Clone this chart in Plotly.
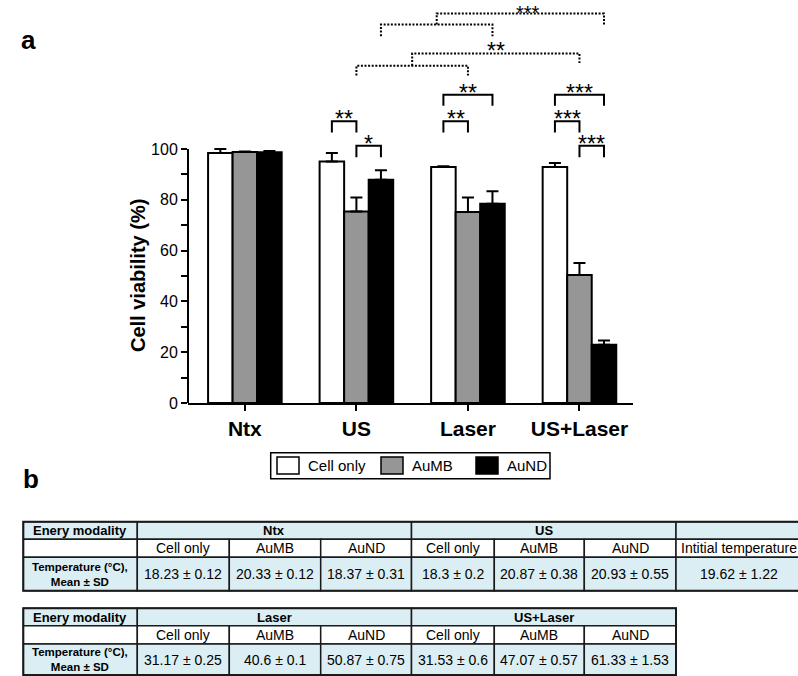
import plotly.graph_objects as go

# ---------------- data ----------------
modalities = ["Ntx", "US", "Laser", "US+Laser"]
groups = ["Cell only", "AuMB", "AuND"]
group_colors = ["#ffffff", "#969696", "#000000"]

via_cell = [98.4, 95.1, 92.9, 92.9]
via_aumb = [98.8, 75.4, 75.2, 50.4]
via_aund = [98.7, 87.9, 78.4, 22.9]
err_cell = [1.6, 3.3, 0.3, 1.6]
err_aumb = [0.2, 5.5, 5.7, 4.7]
err_aund = [0.5, 3.7, 5.0, 1.7]

y_ticks = [0, 20, 40, 60, 80, 100]
y_minor = [10, 30, 50, 70, 90]

# temperature table (mean, sd)
temp_mean = {"Ntx": [18.23, 20.33, 18.37], "US": [18.3, 20.87, 20.93],
             "Laser": [31.17, 40.6, 50.87], "US+Laser": [31.53, 47.07, 61.33]}
temp_sd = {"Ntx": [0.12, 0.12, 0.31], "US": [0.2, 0.38, 0.55],
           "Laser": [0.25, 0.1, 0.75], "US+Laser": [0.6, 0.57, 1.53]}
init_temp_mean = 19.62
init_temp_sd = 1.22

# significance: (x0, x1, top, drop, label)  solid brackets
sig_solid = [
    (0.78, 1.00, 110.9, 106.5, "**"),
    (1.00, 1.22, 101.3, 96.8, "*"),
    (1.78, 2.00, 110.9, 106.5, "**"),
    (1.78, 2.22, 121.4, 117.0, "**"),
    (2.78, 3.00, 110.9, 106.5, "***"),
    (3.00, 3.22, 101.3, 96.8, "***"),
    (2.78, 3.22, 121.4, 117.0, "***"),
]
# dotted nested brackets: (a0, a1, a_top, a_drop, b1, b_top, b_drop, label, label_dx)
sig_dotted = [
    (1.00, 2.00, 132.8, 128.9, 3.00, 137.6, 133.9, "**", 0.0),
    (1.22, 2.22, 149.0, 144.4, 3.22, 153.3, 149.0, "***", 0.07),
]

# ---------------- layout constants ----------------
W, H = 798, 676
FONT = "Liberation Sans, Arial, sans-serif"
X0PX, X1PX = 188, 633
Y0PX, Y100PX, YTOPPX = 403, 149, 3
ppu = (Y0PX - Y100PX) / 100.0
YMAX = (Y0PX - YTOPPX) / ppu


def px(x):
    return x / W


def py(y):
    return 1 - y / H


fig = go.Figure()
vals = [via_cell, via_aumb, via_aund]
errs = [err_cell, err_aumb, err_aund]
xs = list(range(len(modalities)))
for g, c, v, e in zip(groups, group_colors, vals, errs):
    fig.add_trace(go.Bar(
        x=xs, y=v, name=g, showlegend=False,
        marker=dict(color=c, line=dict(color="black", width=2)),
        error_y=dict(type="data", symmetric=False, array=e,
                     arrayminus=[0] * len(e), color="black",
                     thickness=2, width=6),
    ))

shapes = []
annotations = []

# y axis line 0..100
shapes.append(dict(type="line", xref="paper", yref="y",
                   x0=px(X0PX), x1=px(X0PX), y0=0, y1=100,
                   line=dict(color="black", width=2)))

STAR_SHIFT = -6
STAR_FONT = dict(family=FONT, size=23, color="black")
for x0, x1, top, drop, lab in sig_solid:
    shapes.append(dict(type="path", xref="x", yref="y",
                       path=f"M{x0},{drop} L{x0},{top} L{x1},{top} L{x1},{drop}",
                       line=dict(color="black", width=2)))
    annotations.append(dict(x=(x0 + x1) / 2, y=top + 8.0 / ppu,
                            xref="x", yref="y", text=lab, showarrow=False,
                            yshift=STAR_SHIFT, font=STAR_FONT))

for i, (a0, a1, atop, adrop, b1, btop, bdrop, lab, dx) in enumerate(sig_dotted):
    mid = (a0 + a1) / 2
    dot = dict(color="black", width=2, dash="2px,1.6px")
    shapes.append(dict(type="path", xref="x", yref="y",
                       path=f"M{a0},{adrop} L{a0},{atop} L{a1},{atop} L{a1},{adrop}",
                       line=dot))
    shapes.append(dict(type="path", xref="x", yref="y",
                       path=f"M{mid},{atop} L{mid},{btop} L{b1},{btop} L{b1},{bdrop}",
                       line=dot))
    if i == len(sig_dotted) - 1:
        # topmost label: anchor its box to the top edge so it stays inside
        annotations.append(dict(x=(mid + b1) / 2 + dx, y=YMAX,
                                xref="x", yref="y", text=lab, showarrow=False,
                                yanchor="top", yshift=3,
                                font=dict(family=FONT, size=20, color="black")))
    else:
        annotations.append(dict(x=(mid + b1) / 2 + dx, y=btop + 8.5 / ppu,
                                xref="x", yref="y", text=lab, showarrow=False,
                                yshift=STAR_SHIFT, font=STAR_FONT))

# y title
annotations.append(dict(x=px(138), y=50, xref="paper", yref="y",
                        text="<b>Cell viability (%)</b>", textangle=-90,
                        showarrow=False, xanchor="center", yanchor="middle",
                        font=dict(family=FONT, size=20, color="black")))

# panel labels
annotations.append(dict(x=px(19), y=py(23), xref="paper", yref="paper",
                        text="<b>a</b>", showarrow=False,
                        font=dict(family=FONT, size=26, color="black")))
annotations.append(dict(x=px(21), y=py(496), xref="paper", yref="paper",
                        text="<b>b</b>", showarrow=False,
                        font=dict(family=FONT, size=26, color="black")))

# legend (manual, to match symbol sizes)
LEG_BOX = (270.7, 550, 452.7, 478.7)
LEG_SYM_X = [277, 381, 476]
SYM_W, SYM_TOP, SYM_BOT = 22, 457, 474
shapes.append(dict(type="rect", xref="paper", yref="paper",
                   x0=px(LEG_BOX[0]), x1=px(LEG_BOX[1]),
                   y0=py(LEG_BOX[2]), y1=py(LEG_BOX[3]),
                   line=dict(color="black", width=1.5), fillcolor="white"))
for g, c, sx in zip(groups, group_colors, LEG_SYM_X):
    shapes.append(dict(type="rect", xref="paper", yref="paper",
                       x0=px(sx), x1=px(sx + SYM_W), y0=py(SYM_TOP), y1=py(SYM_BOT),
                       line=dict(color="black", width=1.5), fillcolor=c))
    annotations.append(dict(x=px(sx + SYM_W + 7), y=py((SYM_TOP + SYM_BOT) / 2),
                            xref="paper", yref="paper", text=g, showarrow=False,
                            xanchor="left", yanchor="middle",
                            font=dict(family=FONT, size=15, color="black")))

# ---------------- tables ----------------
BLUE = "#dbeef4"
BORDER = "#1a1a1a"
COLS = [23.3, 137.3, 229.3, 320.7, 411.5, 494.3, 584.3, 676, 802]


def cell(x0, x1, y0, y1, fill, text="", size=14, bold=False):
    shapes.append(dict(type="rect", xref="paper", yref="paper",
                       x0=px(x0), x1=px(x1), y0=py(y0), y1=py(y1),
                       line=dict(color=BORDER, width=1.5), fillcolor=fill))
    if text:
        t = f"<b>{text}</b>" if bold else text
        annotations.append(dict(x=px((x0 + x1) / 2), y=py((y0 + y1) / 2),
                                xref="paper", yref="paper", text=t,
                                showarrow=False, xanchor="center", yanchor="middle",
                                font=dict(family=FONT, size=size, color="black")))


def fmt(m, s):
    return f"{m:g} ± {s:g}"


def table(rows, mods, extra):
    r0, r1, r2, r3 = rows
    cell(COLS[0], COLS[1], r0, r1, BLUE, "Enery modality", 13, True)
    cell(COLS[0], COLS[1], r1, r2, "white")
    cell(COLS[0], COLS[1], r2, r3, BLUE, "Temperature (°C),<br>Mean ± SD", 11.5, True)
    for k, m in enumerate(mods):
        c0 = 1 + 3 * k
        cell(COLS[c0], COLS[c0 + 3], r0, r1, BLUE, m, 13, True)
        for j, g in enumerate(groups):
            cell(COLS[c0 + j], COLS[c0 + j + 1], r1, r2, "white", g, 14)
            cell(COLS[c0 + j], COLS[c0 + j + 1], r2, r3, BLUE,
                 fmt(temp_mean[m][j], temp_sd[m][j]), 14)
    right = COLS[7]
    if extra:
        cell(COLS[7], COLS[8], r0, r1, BLUE)
        cell(COLS[7], COLS[8], r1, r2, "white", "Intitial temperature", 14)
        cell(COLS[7], COLS[8], r2, r3, BLUE, fmt(init_temp_mean, init_temp_sd), 14)
        right = COLS[8]
    shapes.append(dict(type="rect", xref="paper", yref="paper",
                       x0=px(COLS[0]), x1=px(right), y0=py(r0), y1=py(r3),
                       line=dict(color=BORDER, width=2), fillcolor="rgba(0,0,0,0)"))


table([521.7, 539.3, 557.3, 590.7], modalities[:2], True)
table([608.3, 625.7, 644.0, 675.0], modalities[2:], False)

fig.update_layout(
    width=W, height=H,
    margin=dict(l=0, r=0, t=0, b=0),
    paper_bgcolor="white", plot_bgcolor="rgba(0,0,0,0)",
    barmode="group", bargap=0.34, bargroupgap=0,
    showlegend=False,
    font=dict(family=FONT, color="black"),
    shapes=shapes, annotations=annotations,
    xaxis=dict(domain=[px(X0PX), px(X1PX)], range=[-0.51, 3.48],
               tickvals=xs, ticktext=[f"<b>{m}</b>" for m in modalities],
               tickfont=dict(family=FONT, size=21, color="black"),
               showline=True, linecolor="black", linewidth=2,
               ticks="outside", ticklen=6, tickwidth=2, tickcolor="black",
               showgrid=False, zeroline=False, automargin=False, fixedrange=True),
    yaxis=dict(domain=[py(Y0PX), py(YTOPPX)], range=[0, YMAX],
               tickvals=y_ticks,
               tickfont=dict(family=FONT, size=16, color="black"),
               showline=False, ticks="outside", ticklen=6, tickwidth=2,
               tickcolor="black",
               minor=dict(tickvals=y_minor, ticks="outside", ticklen=6,
                          tickwidth=2, tickcolor="black", showgrid=False),
               showgrid=False, zeroline=False, automargin=False, fixedrange=True),
)

fig.write_html("out.html", config={"displayModeBar": False},
               post_script="document.body.style.margin='0';"
                           "document.body.style.overflow='hidden';")
